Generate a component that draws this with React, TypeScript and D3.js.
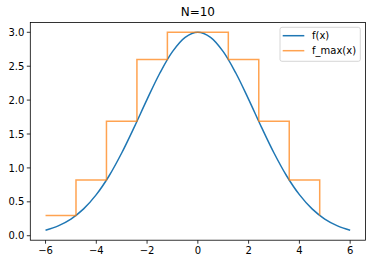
import React from "react";
import * as d3 from "d3";

const curveX = [-6, -5.5, -5, -4.5, -4, -3.5, -3, -2.5, -2, -1.5, -1, -0.5, 0, 0.5, 1, 1.5, 2, 2.5, 3, 3.5, 4, 4.5, 5, 5.5, 6];
const curveY = [0.082, 0.146, 0.246, 0.396, 0.606, 0.881, 1.22, 1.606, 2.011, 2.396, 2.715, 2.926, 3.0, 2.926, 2.715, 2.396, 2.011, 1.606, 1.22, 0.881, 0.606, 0.396, 0.246, 0.146, 0.082];
const stepX = [-6, -4.8, -3.6, -2.4, -1.2, 0, 1.2, 2.4, 3.6, 4.8];
const stepY = [0.30, 0.82, 1.69, 2.60, 3.0, 3.0, 2.60, 1.69, 0.82, 0.30];
const xTicks = [-6, -4, -2, 0, 2, 4, 6];
const yTicks = [0, 0.5, 1.0, 1.5, 2.0, 2.5, 3.0];
const seriesNames = ["f(x)", "f_max(x)"];
const title = "N=10";

const W = 372, H = 264;
const L = 30.3, R = 365.4, T = 22.4, B = 240.2;
const font = "DejaVu Sans, sans-serif";
const blue = "#1f77b4", orange = "#ff7f0e";

export default function App() {
  const x = d3.scaleLinear().domain([-6.6, 6.6]).range([L, R]);
  const y = d3.scaleLinear().domain([-0.066, 3.146]).range([B, T]);
  const curvePts: [number, number][] = curveX.map((v, i) => [v, curveY[i]]);
  const stepPts: [number, number][] = stepX.map((v, i) => [v, stepY[i]]);
  const line = d3.line<[number, number]>().x(d => x(d[0])).y(d => y(d[1])).curve(d3.curveCatmullRom);
  const stepLine = d3.line<[number, number]>().x(d => x(d[0])).y(d => y(d[1])).curve(d3.curveStepAfter);
  const fmt = (v: number) => (v < 0 ? "\u2212" + Math.abs(v) : String(v));
  const lx = 280, ly = 27.3, lw = 80.3, lh = 34;
  return (
    <svg width={W} height={H} style={{ position: "absolute", left: 0, top: 0, background: "#fff" }} fontFamily={font}>
      <rect x={0} y={0} width={W} height={H} fill="#fff" />
      <text x={(L + R) / 2} y={16} textAnchor="middle" fontSize={12}>{title}</text>
      <path d={line(curvePts) || ""} fill="none" stroke={blue} strokeWidth={1.5} />
      <path d={stepLine(stepPts) || ""} fill="none" stroke={orange} strokeOpacity={0.72} strokeWidth={1.5} strokeLinejoin="miter" />
      <rect x={L} y={T} width={R - L} height={B - T} fill="none" stroke="#000" strokeWidth={0.8} />
      {xTicks.map(t => (
        <g key={"x" + t}>
          <line x1={x(t)} x2={x(t)} y1={B} y2={B + 3.5} stroke="#000" strokeWidth={0.8} />
          <text x={x(t)} y={B + 14} textAnchor="middle" fontSize={10}>{fmt(t)}</text>
        </g>
      ))}
      {yTicks.map(t => (
        <g key={"y" + t}>
          <line x1={L - 3.5} x2={L} y1={y(t)} y2={y(t)} stroke="#000" strokeWidth={0.8} />
          <text x={L - 6} y={y(t) + 3.6} textAnchor="end" fontSize={10}>{t.toFixed(1)}</text>
        </g>
      ))}
      <rect x={lx} y={ly} width={lw} height={lh} rx={2} fill="#fff" fillOpacity={0.8} stroke="#ccc" strokeWidth={0.8} />
      {seriesNames.map((n, i) => (
        <g key={n}>
          <line x1={282.7} x2={304.3} y1={35.7 + i * 15} y2={35.7 + i * 15} stroke={i === 0 ? blue : orange} strokeOpacity={i === 0 ? 1 : 0.72} strokeWidth={1.5} />
          <text x={312} y={39.3 + i * 15} fontSize={10}>{n}</text>
        </g>
      ))}
    </svg>
  );
}
